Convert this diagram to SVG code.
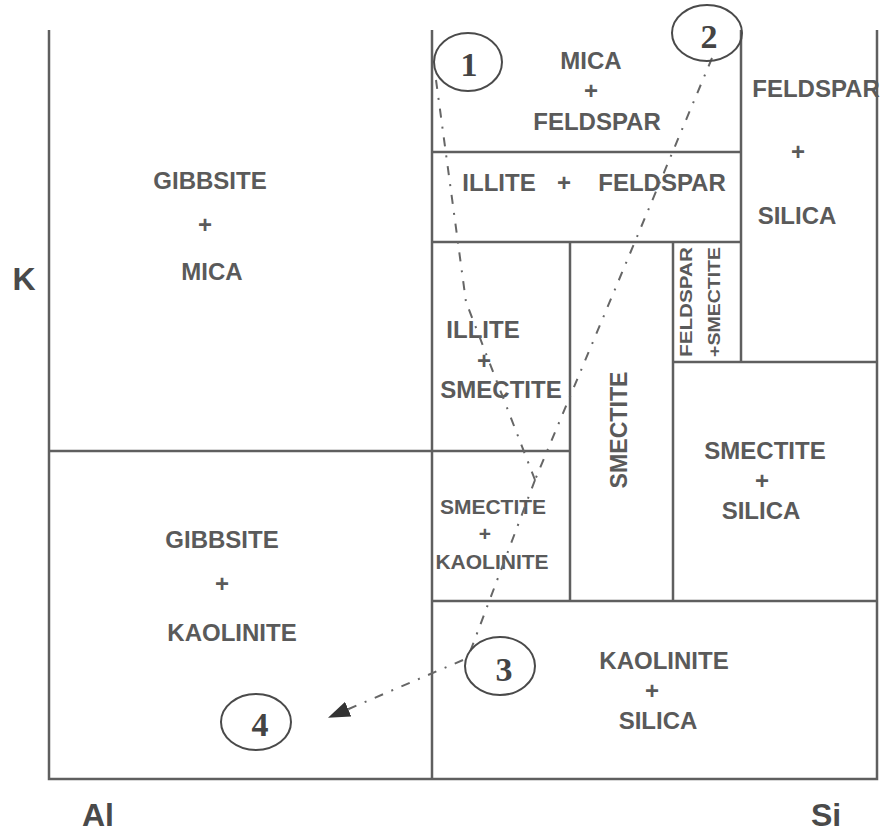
<svg xmlns="http://www.w3.org/2000/svg" width="886" height="832" viewBox="0 0 886 832">
<defs>
<style>
.ln{stroke:#5f5f5f;stroke-width:2.5;fill:none}
.t{font-family:"Liberation Sans",Arial,sans-serif;font-weight:bold;font-size:24px;fill:#5a5a5a;text-anchor:middle}
.ax{font-family:"Liberation Sans",Arial,sans-serif;font-weight:bold;font-size:32px;fill:#4a4a4a;text-anchor:middle}
.c{fill:none;stroke:#4a4a4a;stroke-width:2}
.n{font-family:"Liberation Serif","Times New Roman",serif;font-weight:bold;font-size:34px;fill:#444;text-anchor:middle}
.dd{stroke:#666;stroke-width:2;fill:none;stroke-dasharray:9 9 2 9}
</style>
<marker id="ah" viewBox="0 0 10 10" refX="9" refY="5" markerWidth="22" markerHeight="16" orient="auto" markerUnits="userSpaceOnUse" preserveAspectRatio="none">
<path d="M0,0 L10,5 L0,10 z" fill="#333"/>
</marker>
</defs>
<rect width="886" height="832" fill="#fff"/>
<g id="frame">
<path class="ln" d="M49,30 V779 H877 V30"/>
<path class="ln" d="M432,30 V779"/>
<path class="ln" d="M741,30 V362"/>
<path class="ln" d="M432,152 H741 M432,242 H741"/>
<path class="ln" d="M49,451 H570"/>
<path class="ln" d="M570,242 V601 M673,242 V601"/>
<path class="ln" d="M673,362 H877"/>
<path class="ln" d="M432,601 H877"/>
</g>
<g id="axes">
<text class="ax" x="24" y="290">K</text>
<text class="ax" x="98" y="826">Al</text>
<text class="ax" x="826" y="826">Si</text>
</g>
<g id="gibbsite-mica"><text class="t" x="210" y="189">GIBBSITE</text><text class="t" x="205" y="233">+</text><text class="t" x="212" y="280">MICA</text></g>
<g id="gibbsite-kaolinite"><text class="t" x="222" y="548">GIBBSITE</text><text class="t" x="222" y="592">+</text><text class="t" x="232" y="641">KAOLINITE</text></g>
<g id="mica-feldspar"><text class="t" x="591" y="69">MICA</text><text class="t" x="591" y="99">+</text><text class="t" x="597" y="130">FELDSPAR</text></g>
<g id="illite-feldspar"><text class="t" x="499" y="191">ILLITE</text><text class="t" x="564" y="191">+</text><text class="t" x="662" y="191">FELDSPAR</text></g>
<g id="feldspar-silica"><text class="t" x="816" y="97">FELDSPAR</text><text class="t" x="798" y="160">+</text><text class="t" x="797" y="224">SILICA</text></g>
<g id="illite-smectite"><text class="t" x="483" y="338">ILLITE</text><text class="t" x="484" y="369">+</text><text class="t" x="501" y="398">SMECTITE</text></g>
<g id="smectite"><text class="t" transform="translate(627,430) rotate(-90)" textLength="117" lengthAdjust="spacingAndGlyphs">SMECTITE</text></g>
<g id="feldspar-smectite"><text class="t" style="font-size:17px" transform="translate(692,302) rotate(-90)" textLength="110" lengthAdjust="spacingAndGlyphs">FELDSPAR</text><text class="t" style="font-size:17px" transform="translate(720,302) rotate(-90)" textLength="110" lengthAdjust="spacingAndGlyphs">+SMECTITE</text></g>
<g id="smectite-silica"><text class="t" x="765" y="459">SMECTITE</text><text class="t" x="762" y="489">+</text><text class="t" x="761" y="519">SILICA</text></g>
<g id="smectite-kaolinite"><text class="t" style="font-size:21px" x="493" y="514">SMECTITE</text><text class="t" style="font-size:21px" x="485" y="541">+</text><text class="t" style="font-size:21px" x="492" y="569">KAOLINITE</text></g>
<g id="kaolinite-silica"><text class="t" x="664" y="669">KAOLINITE</text><text class="t" x="652" y="699">+</text><text class="t" x="658" y="729">SILICA</text></g>
<g id="connectors">
<path class="dd" d="M436,80 L466,302 L535,480"/>
<path class="dd" d="M712,58 L535,480"/>
<path class="dd" d="M535,480 L470,652"/>
<path class="dd" d="M463,660 L330,717" marker-end="url(#ah)"/>
</g>
<g id="p1"><ellipse class="c" cx="468" cy="62" rx="34" ry="29"/><text class="n" x="469" y="76">1</text></g>
<g id="p2"><ellipse class="c" cx="707" cy="33" rx="35" ry="28"/><text class="n" x="709" y="48">2</text></g>
<g id="p3"><ellipse class="c" cx="500" cy="666" rx="35" ry="29"/><text class="n" x="504" y="681">3</text></g>
<g id="p4"><ellipse class="c" cx="256" cy="722" rx="35" ry="28"/><text class="n" x="260" y="736">4</text></g>
</svg>
